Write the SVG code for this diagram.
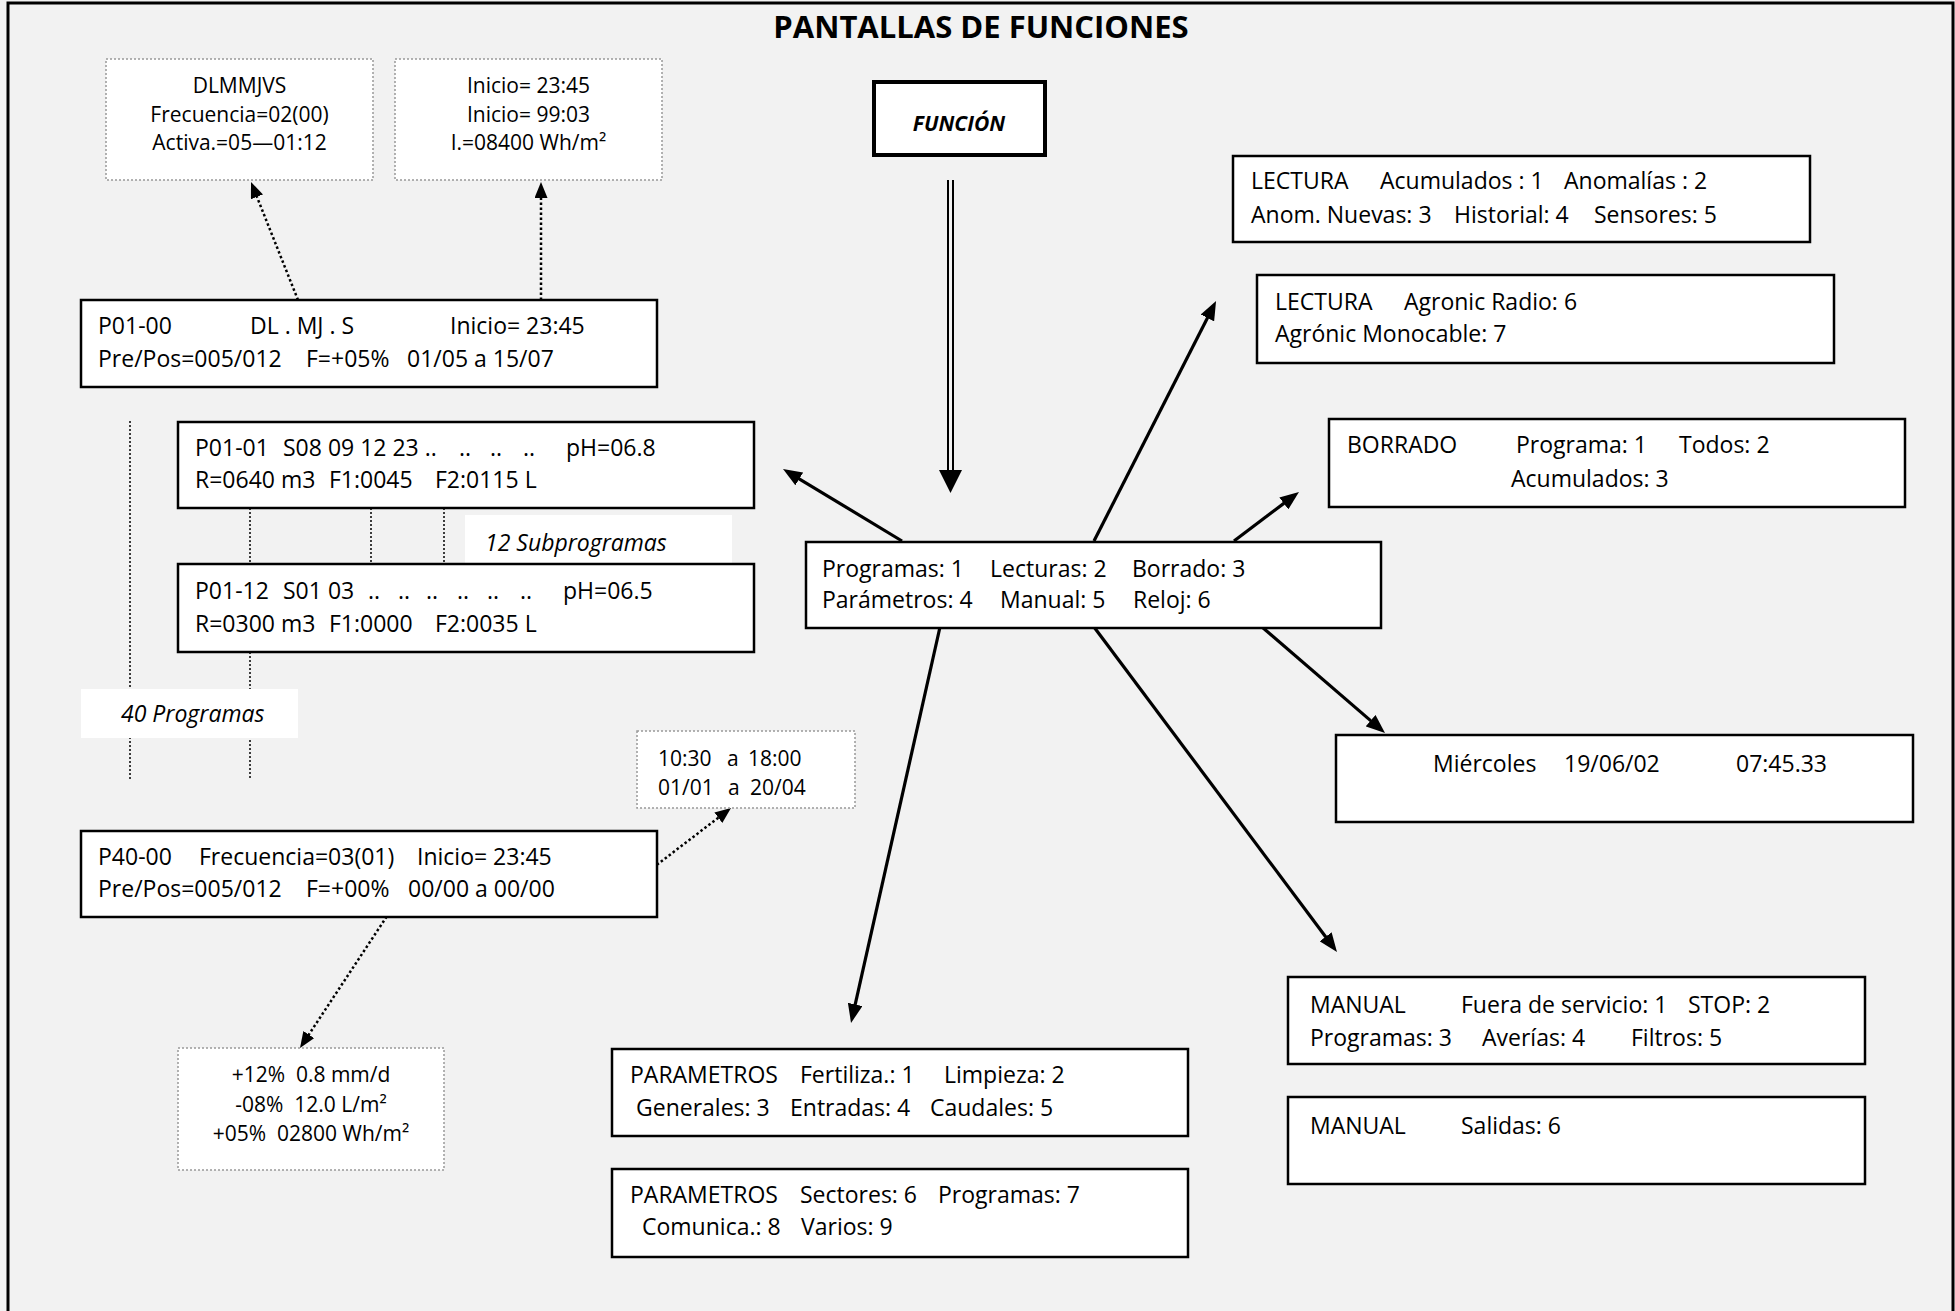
<svg xmlns="http://www.w3.org/2000/svg" width="1955" height="1311" viewBox="0 0 1955 1311">
<style>
  .t{font-family:"Open Sans","Liberation Sans",sans-serif;font-size:23px;fill:#000}
  .s{font-family:"Open Sans","Liberation Sans",sans-serif;font-size:21px;fill:#000;white-space:pre}
  .c{text-anchor:middle}
  .it{font-family:"Open Sans","Liberation Sans",sans-serif;font-size:23px;font-style:italic;fill:#000}
  .box{fill:#fff;stroke:#000;stroke-width:2.5}
  .dbox{fill:#fff;stroke:#999;stroke-width:1.5;stroke-dasharray:2 2}
  .arr{stroke:#000;stroke-width:3.2;fill:none;marker-end:url(#ah)}
  .darr{stroke:#000;stroke-width:2.5;fill:none;stroke-dasharray:2.5 2.5;marker-end:url(#dh)}
  .vl{stroke:#000;stroke-width:1.5;stroke-dasharray:2 2;fill:none}
</style>
<defs>
  <marker id="ah" markerUnits="userSpaceOnUse" markerWidth="19" markerHeight="15" refX="5" refY="7.5" orient="auto">
    <path d="M0,0 L19,7.5 L0,15 z" fill="#000"/>
  </marker>
  <marker id="dh" markerUnits="userSpaceOnUse" markerWidth="16" markerHeight="13" refX="2" refY="6.5" orient="auto">
    <path d="M0,0 L16,6.5 L0,13 z" fill="#000"/>
  </marker>
</defs>
<rect x="0" y="0" width="1955" height="1311" fill="#f2f2f2"/>
<path d="M8,1320 V3 H1953 V1320" fill="none" stroke="#000" stroke-width="3"/>
<text x="981" y="38" text-anchor="middle" font-family="'Open Sans','Liberation Sans',sans-serif" font-size="31" font-weight="bold">PANTALLAS DE FUNCIONES</text>

<g id="guides">
  <path class="vl" d="M130,421 V780"/>
  <path class="vl" d="M250,508 V564 M250,652 V780"/>
  <path class="vl" d="M371,508 V564 M444,508 V564"/>
</g>

<g id="label-subprogramas">
  <rect x="465" y="515" width="267" height="48" fill="#fff"/>
  <text class="it" x="485" y="551">12 Subprogramas</text>
</g>
<g id="label-programas">
  <rect x="81" y="689" width="217" height="49" fill="#fff"/>
  <text class="it" x="121" y="722">40 Programas</text>
</g>

<g id="connectors">
  <path d="M948,180 V472 M953,180 V472" stroke="#000" stroke-width="2" fill="none"/>
  <path d="M939,470 L962,470 L950.5,493 z" fill="#000"/>
  <path class="arr" d="M902,541 L795,476.3"/>
  <path class="arr" d="M1094,541 L1209.7,313.5"/>
  <path class="arr" d="M1234,541 L1287.8,500.4"/>
  <path class="arr" d="M1262,627 L1374.4,723.9"/>
  <path class="arr" d="M1094,627 L1328.6,940.8"/>
  <path class="arr" d="M940,627 L854.1,1009.3"/>
  <path class="darr" d="M298,300 L256.2,195"/>
  <path class="darr" d="M541,300 L541,196"/>
  <path class="darr" d="M637,880 L719.9,816.5"/>
  <path class="darr" d="M395,904 L307.7,1036.3"/>
</g>

<g id="funcion">
  <rect x="874" y="82" width="171" height="73" fill="#fff" stroke="#000" stroke-width="4"/>
  <text x="959" y="131" text-anchor="middle" font-family="'Open Sans','Liberation Sans',sans-serif" font-size="21" font-weight="bold" font-style="italic">FUNCIÓN</text>
</g>

<g id="dias">
  <rect class="dbox" x="106" y="59" width="267" height="121"/>
  <text class="s c" x="239.5" y="93">DLMMJVS</text>
  <text class="s c" x="239.5" y="122">Frecuencia=02(00)</text>
  <text class="s c" x="239.5" y="150">Activa.=05—01:12</text>
</g>
<g id="inicio">
  <rect class="dbox" x="395" y="59" width="267" height="121"/>
  <text class="s c" x="528.5" y="93">Inicio= 23:45</text>
  <text class="s c" x="528.5" y="122">Inicio= 99:03</text>
  <text class="s c" x="528.5" y="150">I.=08400 Wh/m²</text>
</g>

<g id="p01-00">
  <rect class="box" x="81" y="300" width="576" height="87"/>
  <text class="t" x="98" y="334">P01-00</text>
  <text class="t" x="250" y="334">DL . MJ . S</text>
  <text class="t" x="450" y="334">Inicio= 23:45</text>
  <text class="t" x="98" y="367">Pre/Pos=005/012</text>
  <text class="t" x="306" y="367">F=+05%</text>
  <text class="t" x="407" y="367">01/05 a 15/07</text>
</g>

<g id="p01-01">
  <rect class="box" x="178" y="422" width="576" height="86"/>
  <text class="t" x="195" y="456">P01-01</text>
  <text class="t" x="283" y="456">S08 09 12 23 ..</text>
  <text class="t" x="459" y="456">..</text>
  <text class="t" x="490" y="456">..</text>
  <text class="t" x="523" y="456">..</text>
  <text class="t" x="566" y="456">pH=06.8</text>
  <text class="t" x="195" y="488">R=0640 m3</text>
  <text class="t" x="329" y="488">F1:0045</text>
  <text class="t" x="435" y="488">F2:0115 L</text>
</g>

<g id="p01-12">
  <rect class="box" x="178" y="564" width="576" height="88"/>
  <text class="t" x="195" y="599">P01-12</text>
  <text class="t" x="283" y="599">S01 03</text>
  <text class="t" x="368" y="599">..</text>
  <text class="t" x="398" y="599">..</text>
  <text class="t" x="426" y="599">..</text>
  <text class="t" x="457" y="599">..</text>
  <text class="t" x="487" y="599">..</text>
  <text class="t" x="520" y="599">..</text>
  <text class="t" x="563" y="599">pH=06.5</text>
  <text class="t" x="195" y="632">R=0300 m3</text>
  <text class="t" x="329" y="632">F1:0000</text>
  <text class="t" x="435" y="632">F2:0035 L</text>
</g>

<g id="horario">
  <rect class="dbox" x="637" y="731" width="218" height="77"/>
  <text class="s" x="658" y="766">10:30</text>
  <text class="s" x="727" y="766">a</text>
  <text class="s" x="748" y="766">18:00</text>
  <text class="s" x="658" y="795">01/01</text>
  <text class="s" x="728" y="795">a</text>
  <text class="s" x="750" y="795">20/04</text>
</g>

<g id="p40-00">
  <rect class="box" x="81" y="831" width="576" height="86"/>
  <text class="t" x="98" y="865">P40-00</text>
  <text class="t" x="199" y="865">Frecuencia=03(01)</text>
  <text class="t" x="417" y="865">Inicio= 23:45</text>
  <text class="t" x="98" y="897">Pre/Pos=005/012</text>
  <text class="t" x="306" y="897">F=+00%</text>
  <text class="t" x="408" y="897">00/00 a 00/00</text>
</g>

<g id="factores">
  <rect class="dbox" x="178" y="1048" width="266" height="122"/>
  <text class="s c" x="311" y="1082">+12%  0.8 mm/d</text>
  <text class="s c" x="311" y="1112">-08%  12.0 L/m²</text>
  <text class="s c" x="311" y="1141">+05%  02800 Wh/m²</text>
</g>

<g id="menu">
  <rect class="box" x="806" y="542" width="575" height="86"/>
  <text class="t" x="822" y="577">Programas: 1</text>
  <text class="t" x="990" y="577">Lecturas: 2</text>
  <text class="t" x="1132" y="577">Borrado: 3</text>
  <text class="t" x="822" y="608">Parámetros: 4</text>
  <text class="t" x="1000" y="608">Manual: 5</text>
  <text class="t" x="1133" y="608">Reloj: 6</text>
</g>

<g id="lectura1">
  <rect class="box" x="1233" y="156" width="577" height="86"/>
  <text class="t" x="1251" y="189">LECTURA</text>
  <text class="t" x="1380" y="189">Acumulados : 1</text>
  <text class="t" x="1564" y="189">Anomalías : 2</text>
  <text class="t" x="1251" y="223">Anom. Nuevas: 3</text>
  <text class="t" x="1454" y="223">Historial: 4</text>
  <text class="t" x="1594" y="223">Sensores: 5</text>
</g>

<g id="lectura2">
  <rect class="box" x="1257" y="275" width="577" height="88"/>
  <text class="t" x="1275" y="310">LECTURA</text>
  <text class="t" x="1404" y="310">Agronic Radio: 6</text>
  <text class="t" x="1275" y="342">Agrónic Monocable: 7</text>
</g>

<g id="borrado">
  <rect class="box" x="1329" y="419" width="576" height="88"/>
  <text class="t" x="1347" y="453">BORRADO</text>
  <text class="t" x="1516" y="453">Programa: 1</text>
  <text class="t" x="1679" y="453">Todos: 2</text>
  <text class="t" x="1511" y="487">Acumulados: 3</text>
</g>

<g id="reloj">
  <rect class="box" x="1336" y="735" width="577" height="87"/>
  <text class="t" x="1433" y="772">Miércoles</text>
  <text class="t" x="1564" y="772">19/06/02</text>
  <text class="t" x="1736" y="772">07:45.33</text>
</g>

<g id="manual1">
  <rect class="box" x="1288" y="977" width="577" height="87"/>
  <text class="t" x="1310" y="1013">MANUAL</text>
  <text class="t" x="1461" y="1013">Fuera de servicio: 1</text>
  <text class="t" x="1688" y="1013">STOP: 2</text>
  <text class="t" x="1310" y="1046">Programas: 3</text>
  <text class="t" x="1482" y="1046">Averías: 4</text>
  <text class="t" x="1631" y="1046">Filtros: 5</text>
</g>

<g id="manual2">
  <rect class="box" x="1288" y="1097" width="577" height="87"/>
  <text class="t" x="1310" y="1134">MANUAL</text>
  <text class="t" x="1461" y="1134">Salidas: 6</text>
</g>

<g id="parametros1">
  <rect class="box" x="612" y="1049" width="576" height="87"/>
  <text class="t" x="630" y="1083">PARAMETROS</text>
  <text class="t" x="800" y="1083">Fertiliza.: 1</text>
  <text class="t" x="944" y="1083">Limpieza: 2</text>
  <text class="t" x="636" y="1116">Generales: 3</text>
  <text class="t" x="790" y="1116">Entradas: 4</text>
  <text class="t" x="930" y="1116">Caudales: 5</text>
</g>

<g id="parametros2">
  <rect class="box" x="612" y="1169" width="576" height="88"/>
  <text class="t" x="630" y="1203">PARAMETROS</text>
  <text class="t" x="800" y="1203">Sectores: 6</text>
  <text class="t" x="938" y="1203">Programas: 7</text>
  <text class="t" x="642" y="1235">Comunica.: 8</text>
  <text class="t" x="801" y="1235">Varios: 9</text>
</g>
</svg>
